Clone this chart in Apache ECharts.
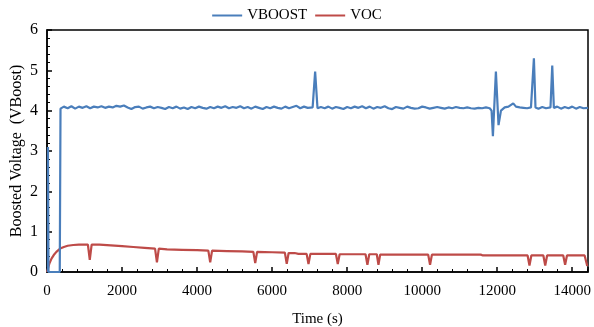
<!DOCTYPE html>
<html>
<head>
<meta charset="utf-8">
<script src="https://cdn.jsdelivr.net/npm/echarts@6/dist/echarts.min.js"></script>
<style>
  html, body { margin: 0; padding: 0; background: #fff; }
  #chart { width: 594px; height: 327px; }
</style>
</head>
<body>
<div id="chart"></div>
<script>
// Boosted voltage log, [time s, volts]
var vboost = [
  [25, 0], [25, 3.1], [40, 0], [340, 0], [360, 4.05], [450, 4.1], [550, 4.06], [650, 4.11], [750, 4.05],
  [850, 4.1], [950, 4.07], [1050, 4.11], [1150, 4.06], [1250, 4.1], [1350, 4.08], [1450, 4.11],
  [1550, 4.07], [1650, 4.1], [1750, 4.08], [1850, 4.12], [1950, 4.1], [2050, 4.13], [2150, 4.08],
  [2250, 4.04], [2350, 4.09], [2450, 4.1], [2550, 4.05], [2650, 4.08], [2750, 4.1], [2850, 4.06],
  [2950, 4.09], [3050, 4.07], [3150, 4.04], [3250, 4.09], [3350, 4.06], [3450, 4.1], [3550, 4.05],
  [3650, 4.08], [3750, 4.04], [3850, 4.09], [3950, 4.06], [4050, 4.1], [4150, 4.07], [4250, 4.05],
  [4350, 4.09], [4450, 4.06], [4550, 4.1], [4650, 4.07], [4750, 4.11], [4850, 4.06], [4950, 4.09],
  [5050, 4.07], [5150, 4.11], [5250, 4.06], [5350, 4.09], [5450, 4.05], [5550, 4.1], [5650, 4.07],
  [5750, 4.04], [5850, 4.09], [5950, 4.06], [6050, 4.1], [6150, 4.07], [6250, 4.05], [6350, 4.1],
  [6450, 4.06], [6550, 4.09], [6650, 4.12], [6750, 4.06], [6850, 4.1], [6950, 4.07], [7080, 4.08],
  [7147, 4.97], [7210, 4.06], [7300, 4.09], [7400, 4.06], [7500, 4.1], [7600, 4.05], [7700, 4.09],
  [7800, 4.07], [7900, 4.04], [8000, 4.09], [8100, 4.06], [8200, 4.1], [8300, 4.07], [8400, 4.11],
  [8500, 4.06], [8600, 4.1], [8700, 4.05], [8800, 4.09], [8900, 4.07], [9000, 4.11], [9100, 4.06],
  [9200, 4.04], [9300, 4.09], [9400, 4.07], [9500, 4.05], [9600, 4.1], [9700, 4.07], [9800, 4.05],
  [9900, 4.06], [10000, 4.1], [10100, 4.08], [10200, 4.05], [10300, 4.07], [10400, 4.09],
  [10500, 4.07], [10600, 4.05], [10700, 4.08], [10800, 4.06], [10900, 4.09], [11000, 4.07],
  [11100, 4.06], [11200, 4.08], [11300, 4.06], [11400, 4.05], [11500, 4.07], [11600, 4.06],
  [11700, 4.08], [11800, 4.06], [11850, 4.0], [11885, 3.37], [11965, 4.97], [12035, 3.64],
  [12100, 4.0], [12200, 4.08], [12300, 4.1], [12427, 4.18], [12500, 4.1], [12600, 4.08],
  [12700, 4.07], [12800, 4.06], [12900, 4.08], [12940, 4.1], [12978, 5.3], [13020, 4.08],
  [13100, 4.05], [13200, 4.09], [13300, 4.06], [13420, 4.08], [13467, 5.12], [13510, 4.07],
  [13600, 4.1], [13700, 4.05], [13800, 4.09], [13900, 4.06], [14000, 4.1], [14100, 4.05],
  [14200, 4.09], [14300, 4.06], [14420, 4.07]
];

var voc = [
  [0, 0], [60, 0.2], [120, 0.33], [180, 0.42], [250, 0.5], [350, 0.58], [450, 0.62], [550, 0.65],
  [700, 0.67], [850, 0.68], [1000, 0.68], [1090, 0.68], [1140, 0.3], [1190, 0.68], [1400, 0.68],
  [1700, 0.66], [2000, 0.64], [2300, 0.62], [2600, 0.6], [2880, 0.58], [2930, 0.24], [2980, 0.58],
  [3200, 0.56], [3600, 0.55], [4000, 0.54], [4300, 0.53], [4350, 0.24], [4400, 0.53], [4800, 0.52],
  [5200, 0.51], [5500, 0.5], [5550, 0.22], [5600, 0.5], [6000, 0.49], [6340, 0.48], [6390, 0.2],
  [6440, 0.47], [6600, 0.47], [6700, 0.45], [6920, 0.45], [6970, 0.2], [7020, 0.45], [7300, 0.45],
  [7700, 0.45], [7750, 0.2], [7800, 0.44], [8490, 0.44], [8540, 0.18], [8590, 0.44], [8790, 0.44],
  [8835, 0.18], [8880, 0.43], [10160, 0.43], [10210, 0.18], [10260, 0.43], [11560, 0.43],
  [11620, 0.41], [12810, 0.41], [12860, 0.16], [12910, 0.41], [13230, 0.41], [13280, 0.16],
  [13330, 0.41], [13760, 0.41], [13810, 0.18], [13860, 0.41], [14330, 0.41], [14400, 0.15]
];

var seriesNames = ['VBOOST', 'VOC'];
var seriesColors = ['#4a7ebb', '#be4b48'];

var font = '"Liberation Serif", "DejaVu Serif", serif';
var chart = echarts.init(document.getElementById('chart'));

chart.setOption({
  animation: false,
  textStyle: { fontFamily: font, color: '#000' },
  legend: {
    top: 3,
    left: 'center',
    itemWidth: 30,
    itemHeight: 2,
    itemGap: 8,
    icon: 'rect',
    textStyle: { fontFamily: font, fontSize: 15, color: '#000' },
    data: seriesNames
  },
  grid: {
    left: 47, right: 6, top: 30, bottom: 55,
    outerBoundsMode: 'none',
    show: true, borderColor: '#000', borderWidth: 1.5
  },
  xAxis: {
    type: 'value',
    min: 0, max: 14420, interval: 2000,
    name: 'Time (s)',
    nameLocation: 'middle',
    nameGap: 40,
    nameMoveOverlap: false,
    nameTextStyle: { fontFamily: font, fontSize: 15, color: '#000' },
    axisLine: { lineStyle: { color: '#000', width: 1.5 } },
    axisTick: { inside: true, length: 5, lineStyle: { color: '#000', width: 1.5 } },
    minorTick: { show: true, splitNumber: 5, length: 3, lineStyle: { color: '#000' } },
    splitLine: { show: false },
    axisLabel: {
      fontFamily: font, fontSize: 15, color: '#000', margin: 12, showMaxLabel: false,
      formatter: function (v) { return String(v); }
    }
  },
  yAxis: {
    type: 'value',
    min: 0, max: 6, interval: 1,
    name: 'Boosted Voltage  (VBoost)',
    nameLocation: 'middle',
    nameGap: 22,
    nameMoveOverlap: false,
    nameRotate: 90,
    nameTextStyle: { fontFamily: font, fontSize: 16, color: '#000' },
    axisLine: { lineStyle: { color: '#000', width: 1.5 } },
    axisTick: { inside: true, length: 5, lineStyle: { color: '#000', width: 1.5 } },
    minorTick: { show: true, splitNumber: 5, length: 3, lineStyle: { color: '#000' } },
    splitLine: { show: false },
    axisLabel: { fontFamily: font, fontSize: 16, color: '#000', margin: 9 }
  },
  series: [
    {
      name: seriesNames[0], type: 'line', data: vboost, showSymbol: false, z: 5,
      color: seriesColors[0], lineStyle: { width: 2.2 }
    },
    {
      name: seriesNames[1], type: 'line', data: voc, showSymbol: false, z: 4,
      color: seriesColors[1], lineStyle: { width: 2.2 }
    }
  ]
});
</script>
</body>
</html>
